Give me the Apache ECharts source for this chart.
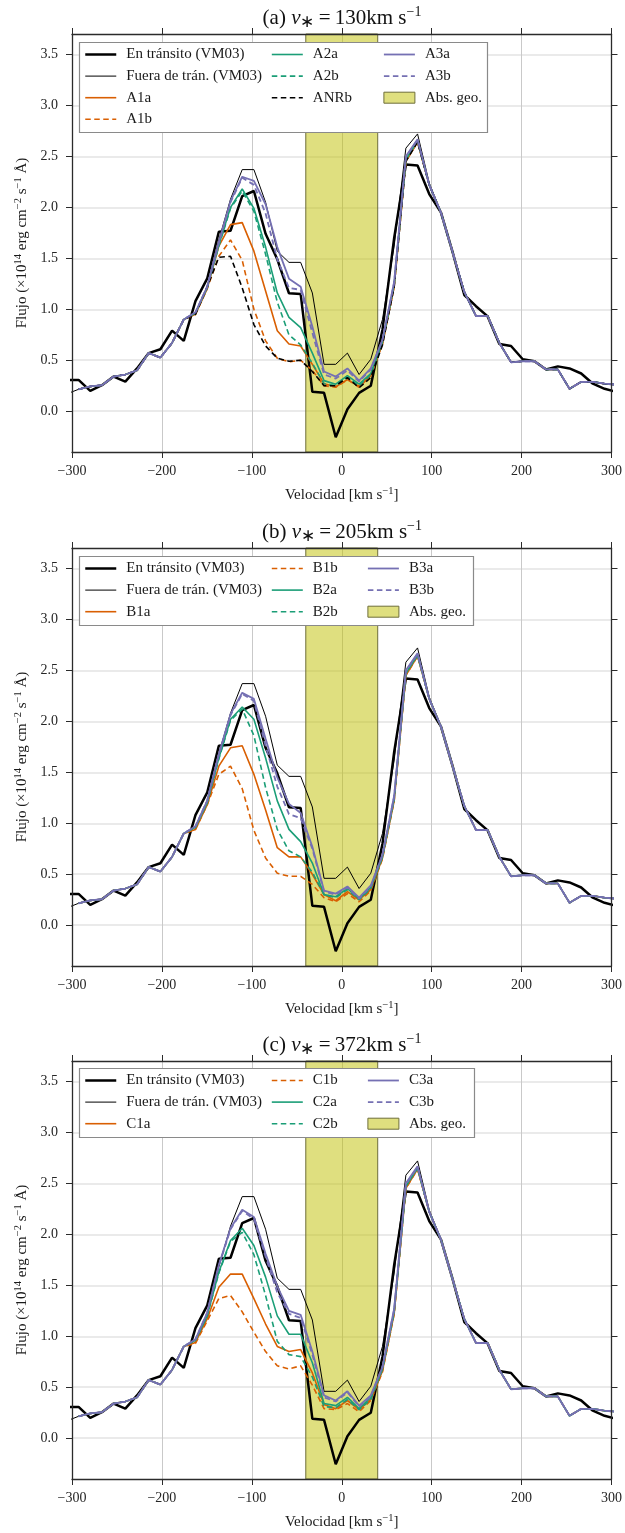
<!DOCTYPE html>
<html><head><meta charset="utf-8">
<script src="https://cdn.jsdelivr.net/npm/echarts@6/dist/echarts.min.js"></script>
<style>html,body{margin:0;padding:0;background:#fff}#c{width:625px;height:1533px}</style>
</head><body><div id="c"></div>
<script>
// ---------- data ----------
const velocity = [-305.7, -292.7, -279.7, -266.7, -253.7, -240.7, -227.7, -214.7, -201.7, -188.7, -175.7, -162.7, -149.7, -136.7, -123.7, -110.7, -97.7, -84.7, -71.7, -58.7, -45.7, -32.7, -19.7, -6.7, 6.3, 19.3, 32.3, 45.3, 58.3, 71.3, 84.3, 97.3, 110.3, 123.3, 136.3, 149.3, 162.3, 175.3, 188.3, 201.3, 214.3, 227.3, 240.3, 253.3, 266.3, 279.3, 292.3, 305.3];
const inTransit = [0.307, 0.307, 0.20, 0.255, 0.34, 0.29, 0.42, 0.57, 0.608, 0.79, 0.69, 1.08, 1.30, 1.76, 1.77, 2.11, 2.16, 1.74, 1.49, 1.157, 1.15, 0.19, 0.18, -0.255, 0.02, 0.18, 0.25, 0.80, 1.70, 2.42, 2.41, 2.13, 1.95, 1.56, 1.14, 1.03, 0.93, 0.66, 0.64, 0.51, 0.49, 0.41, 0.44, 0.42, 0.37, 0.27, 0.22, 0.19];
const outTransit = [0.17, 0.215, 0.243, 0.255, 0.34, 0.36, 0.40, 0.57, 0.526, 0.67, 0.90, 0.97, 1.22, 1.68, 2.08, 2.37, 2.37, 2.05, 1.57, 1.46, 1.46, 1.16, 0.46, 0.46, 0.57, 0.36, 0.51, 0.90, 1.62, 2.58, 2.72, 2.24, 1.95, 1.56, 1.17, 0.934, 0.934, 0.67, 0.48, 0.49, 0.49, 0.41, 0.41, 0.22, 0.288, 0.288, 0.27, 0.26];
// model wings (all models coincide there)
const modelWingLeft = [0.215, 0.243, 0.255, 0.34, 0.36, 0.40, 0.57, 0.526, 0.67, 0.90];
const modelWingRight = [2.22, 1.95, 1.56, 1.17, 0.934, 0.934, 0.67, 0.48, 0.49, 0.49, 0.41, 0.41, 0.22, 0.288, 0.288, 0.27, 0.26];
// model cores (velocity index 11..30)
const coreA1a = [0.95, 1.20, 1.62, 1.83, 1.85, 1.57, 1.18, 0.79, 0.66, 0.64, 0.46, 0.27, 0.24, 0.31, 0.245, 0.35, 0.66, 1.22, 2.45, 2.64];
const coreA1b = [0.95, 1.20, 1.52, 1.68, 1.48, 1.00, 0.69, 0.52, 0.485, 0.50, 0.40, 0.25, 0.235, 0.31, 0.235, 0.35, 0.66, 1.22, 2.45, 2.64];
const coreA2a = [0.96, 1.21, 1.63, 2.00, 2.18, 1.99, 1.61, 1.16, 0.92, 0.82, 0.57, 0.30, 0.265, 0.35, 0.265, 0.37, 0.68, 1.24, 2.47, 2.65];
const coreA2b = [0.96, 1.21, 1.62, 1.99, 2.16, 1.96, 1.54, 1.07, 0.75, 0.65, 0.47, 0.27, 0.25, 0.33, 0.25, 0.36, 0.68, 1.24, 2.47, 2.65];
const coreANRb = [0.95, 1.22, 1.51, 1.52, 1.21, 0.85, 0.64, 0.52, 0.49, 0.50, 0.39, 0.25, 0.25, 0.33, 0.23, 0.33, 0.65, 1.22, 2.45, 2.64];
const coreA3a = [0.97, 1.22, 1.66, 2.06, 2.30, 2.26, 2.03, 1.61, 1.30, 1.22, 0.83, 0.39, 0.34, 0.42, 0.30, 0.42, 0.70, 1.27, 2.50, 2.667];
const coreA3b = [0.97, 1.22, 1.65, 2.05, 2.29, 2.22, 1.94, 1.49, 1.21, 1.19, 0.77, 0.36, 0.32, 0.40, 0.29, 0.41, 0.70, 1.26, 2.49, 2.66];
const coreB1a = [0.94, 1.18, 1.56, 1.74, 1.76, 1.48, 1.13, 0.76, 0.67, 0.67, 0.50, 0.30, 0.24, 0.33, 0.25, 0.35, 0.66, 1.22, 2.45, 2.64];
const coreB1b = [0.94, 1.18, 1.48, 1.56, 1.34, 0.93, 0.66, 0.51, 0.48, 0.48, 0.40, 0.27, 0.23, 0.31, 0.23, 0.34, 0.65, 1.22, 2.45, 2.64];
const coreB2a = [0.96, 1.20, 1.64, 2.02, 2.14, 2.02, 1.64, 1.22, 0.94, 0.82, 0.61, 0.30, 0.28, 0.36, 0.255, 0.37, 0.67, 1.24, 2.47, 2.65];
const coreB2b = [0.96, 1.20, 1.63, 2.01, 2.12, 1.86, 1.35, 0.94, 0.73, 0.67, 0.52, 0.30, 0.27, 0.35, 0.25, 0.36, 0.67, 1.24, 2.47, 2.65];
const coreB3a = [0.97, 1.22, 1.68, 2.07, 2.28, 2.22, 1.83, 1.45, 1.19, 1.10, 0.77, 0.34, 0.31, 0.38, 0.27, 0.39, 0.69, 1.27, 2.50, 2.667];
const coreB3b = [0.97, 1.22, 1.67, 2.06, 2.27, 2.20, 1.76, 1.36, 1.09, 1.05, 0.75, 0.33, 0.30, 0.37, 0.26, 0.38, 0.69, 1.26, 2.49, 2.66];
const coreC1a = [0.94, 1.17, 1.48, 1.61, 1.61, 1.37, 1.12, 0.90, 0.85, 0.87, 0.64, 0.33, 0.29, 0.37, 0.28, 0.38, 0.66, 1.22, 2.45, 2.64];
const coreC1b = [0.93, 1.15, 1.37, 1.40, 1.24, 1.04, 0.85, 0.71, 0.68, 0.71, 0.52, 0.29, 0.28, 0.34, 0.26, 0.37, 0.65, 1.22, 2.45, 2.64];
const coreC2a = [0.96, 1.20, 1.63, 1.94, 2.06, 1.89, 1.58, 1.20, 1.02, 1.02, 0.74, 0.34, 0.32, 0.40, 0.29, 0.40, 0.68, 1.24, 2.47, 2.65];
const coreC2b = [0.96, 1.20, 1.62, 1.93, 2.02, 1.80, 1.40, 0.95, 0.82, 0.80, 0.60, 0.31, 0.30, 0.38, 0.28, 0.38, 0.68, 1.24, 2.47, 2.65];
const coreC3a = [0.97, 1.23, 1.70, 2.06, 2.24, 2.17, 1.81, 1.49, 1.25, 1.21, 0.85, 0.42, 0.37, 0.46, 0.32, 0.42, 0.70, 1.27, 2.50, 2.667];
const coreC3b = [0.97, 1.23, 1.69, 2.05, 2.23, 2.15, 1.78, 1.43, 1.22, 1.18, 0.82, 0.40, 0.36, 0.45, 0.31, 0.41, 0.70, 1.26, 2.49, 2.66];
const absGeoRange = [-40, 40];
const yTickValues = [0, 0.5, 1, 1.5, 2, 2.5, 3, 3.5];
const panelLetters = ['(a)', '(b)', '(c)'];
const panelSpeeds = ['130', '205', '372'];

// ---------- style ----------
const FONT = 'Liberation Serif';
const C = {orange: '#d95f02', green: '#1b9e77', purple: '#7570b3', black: '#000000'};
const BAND = 'rgba(191,191,0,0.5)';
const BAND_EDGE = '#6e6e3a';
const DASH = [5.5, 3.5];
const gridTops = [34, 548, 1061];
const GRID_H = 418, GRID_L = 72, GRID_W = 540;

function full(core) { return [null].concat(modelWingLeft, core, modelWingRight); }
function pairs(vals) { const out = []; vals.forEach((v, i) => { if (v !== null) out.push([velocity[i], v]); }); return out; }

const panelModels = [
  [['A1a', coreA1a, 'orange', false], ['A1b', coreA1b, 'orange', true], ['A2a', coreA2a, 'green', false], ['A2b', coreA2b, 'green', true], ['ANRb', coreANRb, 'black', true], ['A3a', coreA3a, 'purple', false], ['A3b', coreA3b, 'purple', true]],
  [['B1a', coreB1a, 'orange', false], ['B1b', coreB1b, 'orange', true], ['B2a', coreB2a, 'green', false], ['B2b', coreB2b, 'green', true], ['B3a', coreB3a, 'purple', false], ['B3b', coreB3b, 'purple', true]],
  [['C1a', coreC1a, 'orange', false], ['C1b', coreC1b, 'orange', true], ['C2a', coreC2a, 'green', false], ['C2b', coreC2b, 'green', true], ['C3a', coreC3a, 'purple', false], ['C3b', coreC3b, 'purple', true]]
];
const OBS_IN = 'En tránsito (VM03)', OBS_OUT = 'Fuera de trán. (VM03)', ABS = 'Abs. geo.';
const legendColumns = [
  [[OBS_IN, OBS_OUT, 'A1a', 'A1b'], ['A2a', 'A2b', 'ANRb'], ['A3a', 'A3b', ABS]],
  [[OBS_IN, OBS_OUT, 'B1a'], ['B1b', 'B2a', 'B2b'], ['B3a', 'B3b', ABS]],
  [[OBS_IN, OBS_OUT, 'C1a'], ['C1b', 'C2a', 'C2b'], ['C3a', 'C3b', ABS]]
];
const legendColX = [[84, 271, 383], [84, 271, 367], [84, 271, 367]];
const legendBoxes = [[79, 42, 408, 90], [79, 556, 394, 69], [79, 1068, 395, 69]];

const supRich = {
  n: {fontFamily: FONT, fontSize: 15, fontWeight: 'normal', lineHeight: 18, color: '#1a1a1a'},
  sup: {fontFamily: FONT, fontSize: 10.5, fontWeight: 'normal', lineHeight: 10, verticalAlign: 'top', color: '#1a1a1a'}
};
const minusFmt = v => (v < 0 ? '\u2212' + Math.abs(v) : String(v));

const option = {animation: false, backgroundColor: '#fff', title: [], grid: [], xAxis: [], yAxis: [], series: [], legend: [], graphic: {elements: []}};

for (let p = 0; p < 3; p++) {
  const top = gridTops[p];
  option.grid.push({left: GRID_L, top: top, width: GRID_W, height: GRID_H, containLabel: false});
  option.title.push({
    text: '{n|' + panelLetters[p] + ' }{i|v}{sub|\u2217}{n|\u2009=\u2009' + panelSpeeds[p] + 'km s}{sup|\u22121}',
    left: 342, top: top - 29, textAlign: 'center', padding: 0,
    textStyle: {fontFamily: FONT, fontSize: 21, fontWeight: 'normal', color: '#111', rich: {
      n: {fontFamily: FONT, fontSize: 21, fontWeight: 'normal', lineHeight: 26, color: '#111'},
      i: {fontFamily: FONT, fontSize: 21, fontWeight: 'normal', fontStyle: 'italic', lineHeight: 26, color: '#111'},
      sub: {fontFamily: FONT, fontSize: 17, fontWeight: 'normal', lineHeight: 12, verticalAlign: 'bottom', color: '#111'},
      sup: {fontFamily: FONT, fontSize: 14, fontWeight: 'normal', lineHeight: 12, verticalAlign: 'top', color: '#111'}
    }}
  });
  const axLine = {show: true, onZero: false, lineStyle: {color: '#2b2b2b', width: 1.3}};
  const axTick = {show: true, inside: false, length: 6, lineStyle: {color: '#2b2b2b', width: 1}};
  // x axes: data/grid axis, visible bottom axis, top frame axis
  option.xAxis.push({gridIndex: p, type: 'value', min: -300, max: 300, interval: 100, position: 'bottom', z: 0,
    axisLine: {show: false}, axisTick: {show: false}, axisLabel: {show: false},
    splitLine: {show: true, lineStyle: {color: '#c9c9c9', width: 1}}});
  option.xAxis.push({gridIndex: p, type: 'value', min: -300, max: 300, interval: 100, position: 'bottom', z: 3,
    axisLine: axLine, axisTick: axTick, splitLine: {show: false},
    axisLabel: {show: true, margin: 12, fontFamily: FONT, fontSize: 14, color: '#262626', formatter: minusFmt, showMinLabel: true, showMaxLabel: true},
    name: '{n|Velocidad [km s}{sup|\u22121}{n|]}', nameLocation: 'middle', nameGap: 34,
    nameTextStyle: {fontFamily: FONT, fontSize: 15, color: '#1a1a1a', rich: supRich}});
  option.xAxis.push({gridIndex: p, type: 'value', min: -300, max: 300, interval: 100, position: 'top', z: 3,
    axisLine: axLine, axisTick: axTick, axisLabel: {show: false}, splitLine: {show: false}});
  // y axes
  option.yAxis.push({gridIndex: p, type: 'value', min: -0.4, max: 3.7, position: 'left', z: 0,
    axisLine: {show: false}, axisTick: {show: false, customValues: yTickValues}, axisLabel: {show: false, customValues: yTickValues},
    splitLine: {show: true, lineStyle: {color: '#e3e3e3', width: 1.5}}});
  option.yAxis.push({gridIndex: p, type: 'value', min: -0.4, max: 3.7, position: 'left', z: 3,
    axisLine: axLine, axisTick: Object.assign({customValues: yTickValues}, axTick), splitLine: {show: false},
    axisLabel: {show: true, customValues: yTickValues, margin: 14, fontFamily: FONT, fontSize: 14, color: '#262626', formatter: v => v.toFixed(1)},
    name: '{n|Flujo (\u00d710}{sup|14}{n| erg cm}{sup|\u22122}{n| s}{sup|\u22121}{n| \u00c5)}', nameLocation: 'middle', nameRotate: 90, nameGap: 40,
    nameTextStyle: {fontFamily: FONT, fontSize: 15, color: '#1a1a1a', rich: supRich}});
  option.yAxis.push({gridIndex: p, type: 'value', min: -0.4, max: 3.7, position: 'right', z: 3,
    axisLine: axLine, axisTick: Object.assign({customValues: yTickValues}, axTick), axisLabel: {show: false, customValues: yTickValues}, splitLine: {show: false}});

  const xi = p * 3, yi = p * 3;
  const base = {type: 'line', xAxisIndex: xi, yAxisIndex: yi, symbol: 'none', showSymbol: false, smooth: false, clip: true, emphasis: {disabled: true}, z: 2};
  option.series.push(Object.assign({}, base, {name: OBS_IN, data: pairs(inTransit), lineStyle: {color: '#000', width: 2.5}, itemStyle: {color: '#000'}}));
  option.series.push(Object.assign({}, base, {name: OBS_OUT, data: pairs(outTransit), lineStyle: {color: '#000', width: 1}, itemStyle: {color: '#000'}}));
  panelModels[p].forEach(m => {
    const col = C[m[2]];
    option.series.push(Object.assign({}, base, {name: m[0], data: pairs(full(m[1])),
      lineStyle: {color: col, width: m[2] === 'purple' ? 1.8 : 1.6, type: m[3] ? DASH : 'solid'}, itemStyle: {color: col}}));
  });
  option.series.push(Object.assign({}, base, {name: ABS, data: [], itemStyle: {color: BAND}, lineStyle: {color: BAND},
    markArea: {silent: true, label: {show: false}, itemStyle: {color: BAND, borderColor: BAND_EDGE, borderWidth: 1},
      data: [[{xAxis: absGeoRange[0]}, {xAxis: absGeoRange[1]}]]}}));

  // legend box + 3 column legends
  const b = legendBoxes[p];
  option.graphic.elements.push({type: 'rect', z: 3, shape: {x: b[0] + 0.5, y: b[1] + 0.5, width: b[2], height: b[3]},
    style: {fill: '#ffffff', stroke: '#8a8a8a', lineWidth: 1.2}});
  legendColumns[p].forEach((names, c) => {
    option.legend.push({
      orient: 'vertical', left: legendColX[p][c], top: b[1] + 4.5, padding: 0, itemWidth: 31, itemHeight: 11, itemGap: 5.6,
      selectedMode: false, z: 5, lineStyle: {width: 'inherit', type: 'inherit', color: 'inherit'},
      itemStyle: {opacity: 0},
      textStyle: {fontFamily: FONT, fontSize: 15, lineHeight: 16, color: '#1a1a1a', padding: [0, 0, 0, 5]},
      data: names.map(n => n === ABS ? {name: n, icon: 'rect', itemStyle: {opacity: 1, color: BAND, borderColor: BAND_EDGE, borderWidth: 1}} : n)
    });
  });
}

const chart = echarts.init(document.getElementById('c'), null, {renderer: 'canvas'});
chart.setOption(option);
</script>
</body></html>
